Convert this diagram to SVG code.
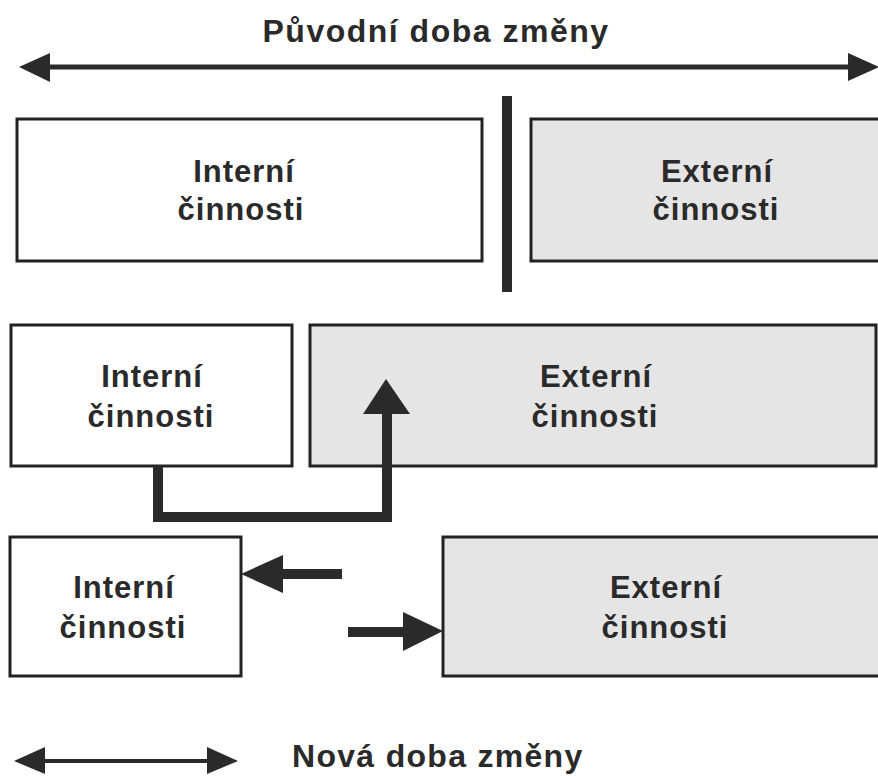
<svg xmlns="http://www.w3.org/2000/svg" width="878" height="776" viewBox="0 0 878 776">
  <style>
    .box { stroke: #222; stroke-width: 3; }
    .int { fill: #ffffff; }
    .ext { fill: #e5e5e5; }
    .lbl { font-family: "Liberation Sans", Arial, sans-serif; font-weight: bold; font-size: 31px; letter-spacing: 1px; fill: #2a2a2a; text-anchor: middle; }
    .title { font-family: "Liberation Sans", Arial, sans-serif; font-weight: bold; font-size: 32px; fill: #2a2a2a; }
    .dark { fill: #2a2a2a; }
    .ln { stroke: #2a2a2a; fill: none; }
  </style>
  <rect width="878" height="776" fill="#ffffff"/>

  <text class="title" x="436" y="42" text-anchor="middle" letter-spacing="1.5">Původní doba změny</text>
  <text class="title" x="292" y="767" letter-spacing="1.3">Nová doba změny</text>

  <g id="row1-internal">
    <rect class="box int" x="17" y="119" width="465" height="142"/>
    <text class="lbl" x="244" y="182">Interní</text>
    <text class="lbl" x="241" y="220">činnosti</text>
  </g>
  <g id="row1-external">
    <rect class="box ext" x="531" y="119" width="370" height="142"/>
    <text class="lbl" x="717" y="182">Externí</text>
    <text class="lbl" x="716" y="220">činnosti</text>
  </g>
  <g id="row2-internal">
    <rect class="box int" x="11" y="325" width="281" height="141"/>
    <text class="lbl" x="152" y="387">Interní</text>
    <text class="lbl" x="151" y="427">činnosti</text>
  </g>
  <g id="row2-external">
    <rect class="box ext" x="310" y="325" width="566" height="141"/>
    <text class="lbl" x="596" y="387">Externí</text>
    <text class="lbl" x="595" y="427">činnosti</text>
  </g>
  <g id="row3-internal">
    <rect class="box int" x="10" y="537" width="231" height="139"/>
    <text class="lbl" x="124" y="598">Interní</text>
    <text class="lbl" x="123" y="638">činnosti</text>
  </g>
  <g id="row3-external">
    <rect class="box ext" x="443" y="537" width="450" height="139"/>
    <text class="lbl" x="666" y="598">Externí</text>
    <text class="lbl" x="665" y="638">činnosti</text>
  </g>

  <g id="connectors">
    <line class="ln" x1="48" y1="67" x2="850" y2="67" stroke-width="5"/>
    <polygon class="dark" points="19,67 50,53 50,82"/>
    <polygon class="dark" points="848,53 848,81 879,67"/>
    <rect class="dark" x="502" y="96" width="10" height="196"/>
    <path class="ln" d="M158 466 V517 H387 V412" stroke-width="10" stroke-linejoin="miter"/>
    <polygon class="dark" points="363,414 410,414 386,379"/>
    <rect class="dark" x="280" y="569" width="62" height="10"/>
    <polygon class="dark" points="241,574 283,555 283,593"/>
    <rect class="dark" x="348" y="627" width="57" height="10"/>
    <polygon class="dark" points="403,612 403,651 443,631"/>
    <line class="ln" x1="44" y1="761" x2="208" y2="761" stroke-width="4"/>
    <polygon class="dark" points="14,761 45,747 45,774"/>
    <polygon class="dark" points="207,747 207,774 238,761"/>
  </g>
</svg>
